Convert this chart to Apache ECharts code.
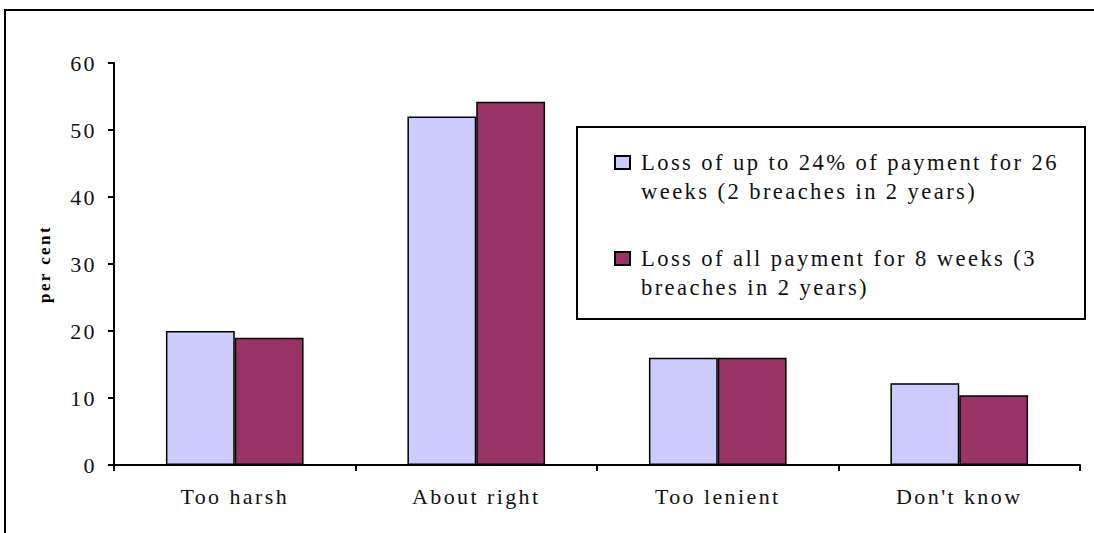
<!DOCTYPE html>
<html>
<head>
<meta charset="utf-8">
<script src="https://cdn.jsdelivr.net/npm/echarts@6/dist/echarts.min.js"></script>
<style>
  html, body { margin: 0; padding: 0; background: #fff; }
  #chart { width: 1094px; height: 533px; }
  #chart svg text { letter-spacing: 2.4px; font-family: "Liberation Serif", serif !important; }
</style>
</head>
<body>
<div id="chart"></div>
<script>
const categories = ["Too harsh", "About right", "Too lenient", "Don't know"];
const seriesNames = [
  "Loss of up to 24% of payment for 26 weeks (2 breaches in 2 years)",
  "Loss of all payment for 8 weeks (3 breaches in 2 years)"
];
const legendLines = {
  "Loss of up to 24% of payment for 26 weeks (2 breaches in 2 years)": "Loss of up to 24% of payment for 26\nweeks (2 breaches in 2 years)",
  "Loss of all payment for 8 weeks (3 breaches in 2 years)": "Loss of all payment for 8 weeks (3\nbreaches in 2 years)"
};
const upTo24 = [20, 52, 16, 12.2];
const allPayment = [19, 54.2, 16, 10.4];
const yTicks = { min: 0, max: 60, interval: 10 };
const yAxisName = "per cent";

const font = "Liberation Serif";
const chart = echarts.init(document.getElementById('chart'), null, { renderer: 'svg' });
chart.setOption({
  animation: false,
  backgroundColor: '#ffffff',
  textStyle: { fontFamily: font },
  grid: { left: 114, right: 14, top: 63, bottom: 68, containLabel: false },
  xAxis: {
    type: 'category',
    data: categories,
    axisLine: { lineStyle: { color: '#000', width: 2 } },
    axisTick: { show: true, alignWithLabel: false, length: 6, lineStyle: { color: '#000', width: 2 } },
    axisLabel: { color: '#111', fontSize: 22, fontFamily: font, margin: 20 }
  },
  yAxis: {
    type: 'value',
    min: yTicks.min, max: yTicks.max, interval: yTicks.interval,
    name: yAxisName,
    nameLocation: 'middle',
    nameRotate: 90,
    nameGap: 61,
    nameTextStyle: { color: '#000', fontSize: 17, fontWeight: 'bold', fontFamily: font },
    axisLine: { show: true, lineStyle: { color: '#000', width: 2 } },
    axisTick: { show: true, length: 6, lineStyle: { color: '#000', width: 2 } },
    axisLabel: { color: '#111', fontSize: 22, fontFamily: font, margin: 17 },
    splitLine: { show: false }
  },
  legend: {
    orient: 'vertical',
    left: 614,
    top: 119,
    padding: 0,
    itemGap: 9,
    itemWidth: 15,
    itemHeight: 13,
    icon: 'rect',
    data: seriesNames,
    formatter: function (name) { return '\n' + legendLines[name]; },
    textStyle: { color: '#111', fontSize: 22.6, lineHeight: 29, fontFamily: font, padding: [0, 0, 0, 6] }
  },
  graphic: [
    { type: 'rect', shape: { x: 5, y: 10, width: 1200, height: 1000 }, style: { fill: 'none', stroke: '#000', lineWidth: 2 }, silent: true, z: -1 },
    { type: 'rect', shape: { x: 577, y: 127, width: 508, height: 192 }, style: { fill: '#fff', stroke: '#000', lineWidth: 2 }, silent: true, z: 0 }
  ],
  series: [
    {
      name: seriesNames[0], type: 'bar', data: upTo24,
      barGap: '0%', barCategoryGap: '43%',
      itemStyle: { color: '#CCCCFF', borderColor: '#000', borderWidth: 1.5 }
    },
    {
      name: seriesNames[1], type: 'bar', data: allPayment,
      barGap: '0%', barCategoryGap: '43%',
      itemStyle: { color: '#993366', borderColor: '#000', borderWidth: 1.5 }
    }
  ]
});
</script>
</body>
</html>
